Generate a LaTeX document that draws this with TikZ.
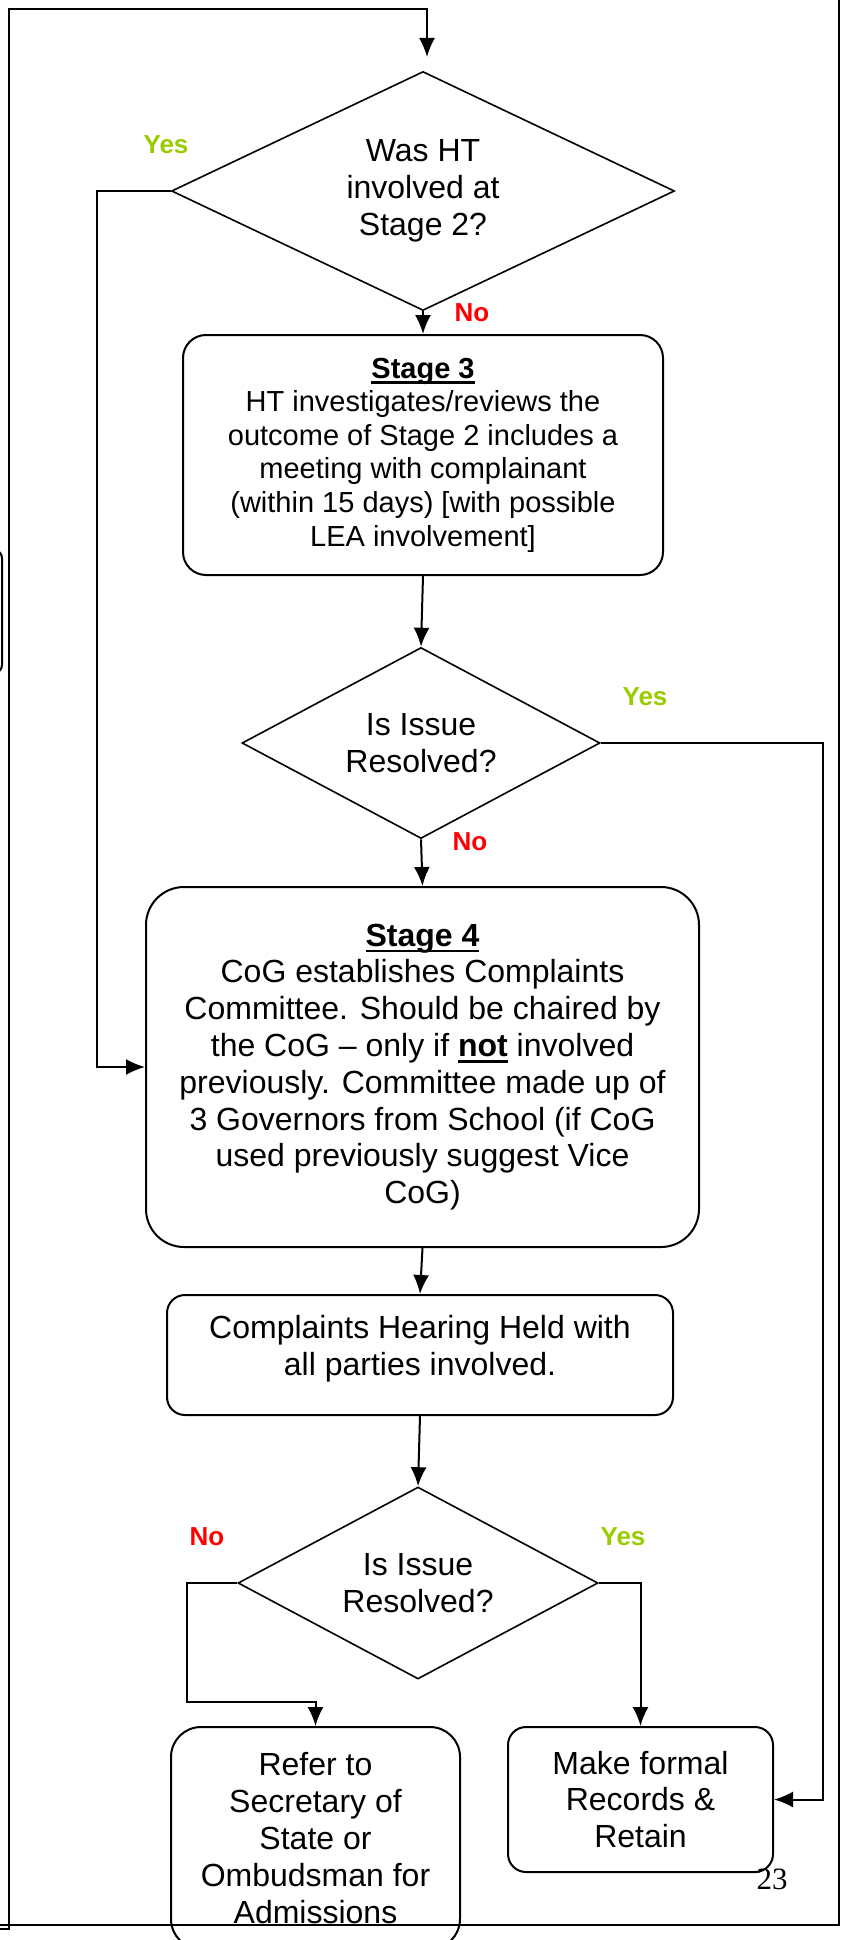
\documentclass[tikz,border=0pt]{standalone}
\usepackage{fontspec}
\setmainfont{Liberation Sans}
\newfontfamily\pagefont{Liberation Serif}
\usepackage{xcolor}
\usetikzlibrary{arrows.meta,shapes.geometric,calc}

\definecolor{yesgreen}{RGB}{153,204,0}
\definecolor{nored}{RGB}{255,0,0}

\newcommand{\bodyfont}{\fontsize{32}{36.8}\selectfont}
\newcommand{\smallbody}{\fontsize{29}{33.6}\selectfont}
\newcommand{\ulbold}[1]{\setbox0=\hbox{\bfseries #1}\rlap{\rule[-0.19em]{\wd0}{0.075em}}\box0\relax}

\begin{document}
\begin{tikzpicture} [x=1pt, y=-1pt, line width=2pt,
       stepbox/.style 2 args = {rectangle, draw, minimum width=#1, minimum height=#2,
                                inner sep=0pt, align=center, font=\bodyfont},
       decision/.style 2 args = {diamond, draw, line width=1.6pt, aspect=2,
                                 minimum width=#1, minimum height=#2,
                                 inner sep=0pt, align=center, font=\bodyfont},
       answer/.style = {text=#1, font=\fontsize{26}{30}\selectfont\bfseries},
       flow/.style = {-{Latex[length=19pt,width=16pt]}}]
	\useasboundingbox (0,0) rectangle (841,1940);
	%% Page frame and box left over from the previous page
	\draw (0,1925) -| (839,0);
	\draw[rounded corners=8pt] (-40,550) rectangle (2,673);
	%% Stages and decisions
	\node [decision={503}{239}] (htstage2) at (423,191) {Was HT\\involved at\\Stage 2?};
	\node [stepbox={480}{240}, rounded corners=23pt, font=\smallbody] (stage3) at (423,455)
	      {\ulbold{Stage 3}\\HT investigates/reviews the\\outcome of Stage 2 includes a\\meeting with complainant\\(within 15 days) [with possible\\LEA involvement]};
	\node [decision={358}{191}] (resolved1) at (421,743) {Is Issue\\Resolved?};
	\node [stepbox={553}{360}, rounded corners=38pt] (stage4) at (422.5,1067)
	      {\ulbold{Stage 4}\\CoG establishes Complaints\\Committee. Should be chaired by\\the CoG – only if \ulbold{not} involved\\previously. Committee made up of\\3 Governors from School (if CoG\\used previously suggest Vice\\CoG)};
	\node [stepbox={506}{120}, rounded corners=18pt, text depth=19pt] (hearing) at (420,1355)
	      {Complaints Hearing Held with\\all parties involved.};
	\node [decision={360}{192}] (resolved2) at (418,1583) {Is Issue\\Resolved?};
	\node [stepbox={289}{222}, rounded corners=30pt] (refer) at (315.5,1838)
	      {Refer to\\Secretary of\\State or\\Ombudsman for\\Admissions};
	\node [stepbox={265}{145}, rounded corners=18pt] (records) at (640.5,1799.5)
	      {Make formal\\Records \&\\Retain};
	%% Yes / No labels
	\node [answer=yesgreen] (yes1) at (166,145) {Yes};
	\node [answer=nored] (no1) at (472,313) {No};
	\node [answer=yesgreen] (yes2) at (645,697) {Yes};
	\node [answer=nored] (no2) at (470,842) {No};
	\node [answer=nored] (no3) at (207,1537) {No};
	\node [answer=yesgreen] (yes3) at (623,1537) {Yes};
	\node [font=\pagefont\fontsize{31}{35}\selectfont] (pagenum) at (772,1879) {23};
	%% Connectors
	\coordinate (loopin) at (0,1929);
	\coordinate (loopend) at (427,57);
	\draw [flow] (loopin) -- (9,1929) -- (9,9) -- (427,9) -- (loopend);
	\draw [flow] (htstage2.south) -- (stage3.north);
	\draw [flow] (htstage2.west) -- ++(-74,0) |- (stage4.west);
	\draw [flow] (stage3.south) -- (resolved1.north);
	\draw [flow] (resolved1.south) -- (stage4.north);
	\draw [flow] (resolved1.east) -- ++(222,0) |- (records.east);
	\draw [flow] (stage4.south) -- (hearing.north);
	\draw [flow] (hearing.south) -- (resolved2.north);
	\draw [flow] (resolved2.west) -- ++(-50,0) -- ++(0,119) -| (refer.north);
	\draw [flow] (resolved2.east) -| (records.north);
\end{tikzpicture}
\end{document}
